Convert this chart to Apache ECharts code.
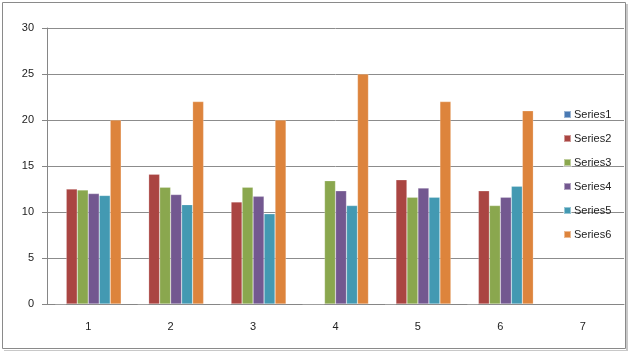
<!DOCTYPE html>
<html>
<head>
<meta charset="utf-8">
<script src="https://cdn.jsdelivr.net/npm/echarts@6/dist/echarts.min.js"></script>
<style>
  html, body { margin: 0; padding: 0; background: #fff; }
  #chart { width: 630px; height: 353px; }
</style>
</head>
<body>
<div id="chart"></div>
<script>
var categories = ['1', '2', '3', '4', '5', '6', '7'];
var series1 = [0, 0, 0, 0, 0, 0, null];
var series2 = [12.5, 14.1, 11.1, 0, 13.5, 12.3, null];
var series3 = [12.4, 12.7, 12.7, 13.4, 11.6, 10.7, null];
var series4 = [12.0, 11.9, 11.7, 12.3, 12.6, 11.6, null];
var series5 = [11.8, 10.8, 9.8, 10.7, 11.6, 12.8, null];
var series6 = [20, 22, 20, 25, 22, 21, null];
var seriesNames = ['Series1', 'Series2', 'Series3', 'Series4', 'Series5', 'Series6'];
var colors = ['#4a7ab3', '#aa4542', '#8aa74e', '#735890', '#4399b2', '#dd843c'];

var allData = [series1, series2, series3, series4, series5, series6];
var textFont = 'Liberation Sans';

var myChart = echarts.init(document.getElementById('chart'));
var option = {
    animation: false,
    color: colors,
    graphic: [{
        type: 'rect',
        shape: { x: 2.5, y: 2.5, width: 623, height: 346 },
        style: { fill: 'none', stroke: '#8a8a8a', lineWidth: 1 },
        z: 100
    }, {
        type: 'line',
        shape: { x1: 627, y1: 4, x2: 627, y2: 350 },
        style: { stroke: '#c8c8c8', lineWidth: 2 },
        z: 100
    }, {
        type: 'line',
        shape: { x1: 4, y1: 350.5, x2: 628, y2: 350.5 },
        style: { stroke: '#c8c8c8', lineWidth: 1 },
        z: 100
    }],
    legend: {
        orient: 'vertical',
        left: 558,
        top: 104,
        itemWidth: 7,
        itemHeight: 7,
        itemGap: 13,
        icon: 'rect',
        textStyle: { fontFamily: textFont, fontSize: 11, color: '#222', padding: [0, 0, 0, -2] },
        data: seriesNames
    },
    grid: {
        left: 47,
        right: 6,
        top: 28,
        bottom: 49
    },
    xAxis: {
        type: 'category',
        data: categories,
        axisLine: { lineStyle: { color: '#868686' } },
        axisTick: { alignWithLabel: false, length: 5, lineStyle: { color: '#868686' } },
        axisLabel: { margin: 17, fontFamily: textFont, fontSize: 11, color: '#222' }
    },
    yAxis: {
        type: 'value',
        min: 0,
        max: 30,
        interval: 5,
        axisLine: { show: true, lineStyle: { color: '#868686' } },
        axisTick: { show: true, length: 5, lineStyle: { color: '#868686' } },
        axisLabel: { margin: 13, fontFamily: textFont, fontSize: 11, color: '#222' },
        splitLine: { lineStyle: { color: '#8c8c8c' } }
    },
    series: allData.map(function (d, i) {
        return {
            name: seriesNames[i],
            type: 'bar',
            data: d,
            barGap: 0,
            barCategoryGap: '20%',
            itemStyle: { borderColor: 'rgba(255,255,255,0.45)', borderWidth: 0.5 }
        };
    })
};
myChart.setOption(option);
</script>
</body>
</html>
